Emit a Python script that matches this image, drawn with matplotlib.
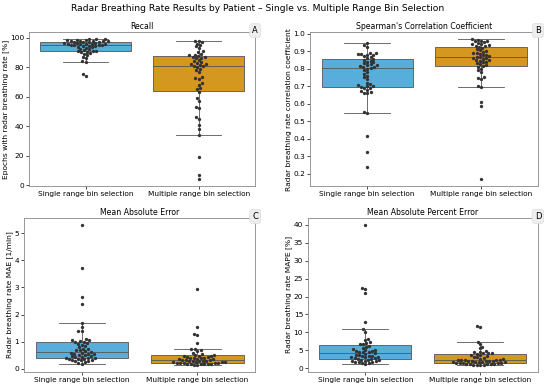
import numpy as np
import pandas as pd
import matplotlib
matplotlib.use("Agg")
import matplotlib.pyplot as plt
import seaborn as sns

GROUPS = ["Single range bin selection", "Multiple range bin selection"]
COLORS = ["#58aedb", "#d4971f"]
PANELS = ["A", "B", "C", "D"]
TITLES = ["Recall", "Spearman's Correlation Coefficient",
          "Mean Absolute Error", "Mean Absolute Percent Error"]
YLABELS = ["Epochs with radar breathing rate [%]",
           "Radar breathing rate correlation coefficient",
           "Radar breathing rate MAE [1/min]",
           "Radar breathing rate MAPE [%]"]

recall_single = [99, 99, 98.8, 98.5, 98.5, 98.2, 98, 98, 97.8, 97.5, 97.5, 97.2, 97,
                 97, 96.8, 96.5, 96.5, 96.2, 96, 96, 95.8, 95.5, 95.5, 95.2, 95, 95,
                 94.8, 94.5, 94.2, 94, 93.8, 93.5, 93, 92.5, 92, 91.5, 91, 91, 90.8,
                 90.5, 90, 89.5, 89, 88, 87, 86, 84, 83.5, 75, 74]
recall_multi = [98, 97.5, 97, 96, 95, 94, 93, 91, 90, 89, 88.5, 88,
                87.5, 87, 87, 86.5, 86, 85, 84, 83.5, 83, 82, 82, 81.5, 81,
                80.5, 80, 79, 78, 77, 73, 72.5, 72, 69, 68, 66, 65,
                63, 59, 57, 53, 52, 46, 45, 41, 38, 34, 19, 7, 4]

spear_single = [0.945, 0.935, 0.925, 0.89, 0.888, 0.885, 0.882, 0.88, 0.878, 0.87, 0.865, 0.86,
                0.855, 0.85, 0.845, 0.84, 0.835, 0.83, 0.825, 0.822, 0.82, 0.815, 0.81, 0.808, 0.805,
                0.80, 0.79, 0.78, 0.77, 0.76, 0.75, 0.74, 0.72, 0.71, 0.705, 0.70, 0.70,
                0.695, 0.69, 0.69, 0.68, 0.67, 0.665, 0.66, 0.66, 0.55, 0.545, 0.415, 0.325, 0.24]
spear_multi = [0.968, 0.965, 0.96, 0.958, 0.955, 0.95, 0.945, 0.94, 0.938, 0.935, 0.93, 0.928,
               0.925, 0.92, 0.91, 0.905, 0.9, 0.895, 0.89, 0.888, 0.885, 0.88, 0.875, 0.87, 0.868,
               0.865, 0.86, 0.858, 0.855, 0.85, 0.848, 0.845, 0.84, 0.835, 0.83, 0.825, 0.82,
               0.815, 0.81, 0.80, 0.79, 0.78, 0.75, 0.745, 0.74, 0.70, 0.695, 0.61, 0.585, 0.17]

mae_single = [5.3, 3.72, 2.65, 2.38, 1.68, 1.55, 1.4, 1.38, 1.1, 1.05, 1.05, 1.02,
              1.0, 0.98, 0.95, 0.92, 0.9, 0.85, 0.8, 0.75, 0.72, 0.7, 0.68, 0.65, 0.62,
              0.6, 0.58, 0.56, 0.55, 0.54, 0.52, 0.5, 0.48, 0.47, 0.45, 0.44, 0.42,
              0.4, 0.39, 0.38, 0.37, 0.35, 0.34, 0.33, 0.32, 0.3, 0.28, 0.25, 0.22, 0.2]
mae_multi = [2.93, 1.55, 1.3, 1.25, 0.95, 0.73, 0.72, 0.7, 0.65, 0.6, 0.55, 0.52,
             0.5, 0.49, 0.48, 0.46, 0.45, 0.44, 0.42, 0.41, 0.4, 0.39, 0.38, 0.37, 0.35,
             0.34, 0.33, 0.32, 0.31, 0.3, 0.29, 0.28, 0.28, 0.27, 0.26, 0.25, 0.24,
             0.235, 0.23, 0.22, 0.22, 0.21, 0.2, 0.2, 0.19, 0.18, 0.17, 0.17, 0.16, 0.15]

mape_single = [40, 22.3, 22, 21, 13, 10.8, 10.2, 8, 7.8, 7.2, 7, 6.8,
               6.6, 6.3, 6, 5.6, 5.3, 5.2, 5, 4.9, 4.8, 4.6, 4.5, 4.4, 4.2,
               4, 3.8, 3.6, 3.5, 3.4, 3.3, 3.2, 3.1, 3, 2.9, 2.8, 2.6,
               2.5, 2.4, 2.3, 2.2, 2.1, 2, 1.9, 1.8, 1.7, 1.6, 1.4, 1.3, 1.2]
mape_multi = [11.8, 11.6, 7.4, 6.8, 6, 5.5, 4.8, 4.6, 4.4, 4.3, 4.2, 4.1,
              4.0, 3.8, 3.6, 3.4, 3.2, 3.0, 2.8, 2.6, 2.5, 2.4, 2.3, 2.3, 2.2,
              2.15, 2.1, 2.05, 2, 1.95, 1.9, 1.8, 1.75, 1.7, 1.65, 1.6, 1.5,
              1.45, 1.4, 1.35, 1.3, 1.25, 1.2, 1.15, 1.1, 1.05, 1.0, 0.95, 0.9, 0.9]

DATA = [(recall_single, recall_multi), (spear_single, spear_multi),
        (mae_single, mae_multi), (mape_single, mape_multi)]

# axes rectangles [left, bottom, width, height] in figure fraction
RECTS = [[0.053, 0.519, 0.411, 0.398],
         [0.564, 0.519, 0.414, 0.398],
         [0.044, 0.039, 0.420, 0.398],
         [0.560, 0.039, 0.418, 0.398]]


def make_frame(single, multi):
    return pd.DataFrame({
        "group": [GROUPS[0]] * len(single) + [GROUPS[1]] * len(multi),
        "value": list(single) + list(multi),
    })


def draw_panel(ax, df, title, ylabel, letter):
    sns.boxplot(data=df, x="group", y="value", order=GROUPS, hue="group",
                hue_order=GROUPS, palette=COLORS, saturation=1, legend=False,
                showfliers=False, width=0.8, linewidth=0.6, linecolor="#555555",
                ax=ax)
    sns.swarmplot(data=df, x="group", y="value", order=GROUPS, color="#333333",
                  size=2.4, ax=ax)
    ax.set_title(title, fontsize=5.6, pad=2)
    ax.set_ylabel(ylabel, fontsize=5.4, labelpad=1)
    ax.set_xlabel("")
    ax.tick_params(labelsize=5.3, length=2, width=0.5, pad=1.5)
    for sp in ax.spines.values():
        sp.set_color("#888888")
        sp.set_linewidth(0.6)
    ax.text(1.0, 1.01, letter, transform=ax.transAxes, ha="center", va="center",
            fontsize=6, bbox=dict(boxstyle="round,pad=0.3", fc="#eeeeee", ec="#dddddd", lw=0.5))


def main():
    fig = plt.figure(figsize=(5.5, 3.87), dpi=100)
    for rect, (s, m), title, ylabel, letter in zip(RECTS, DATA, TITLES, YLABELS, PANELS):
        ax = fig.add_axes(rect)
        draw_panel(ax, make_frame(s, m), title, ylabel, letter)
    fig.suptitle("Radar Breathing Rate Results by Patient \u2013 Single vs. Multiple Range Bin Selection",
                 x=0.468, y=0.99, fontsize=6.6)
    fig.savefig("out.png", dpi=100)


if __name__ == "__main__":
    main()
